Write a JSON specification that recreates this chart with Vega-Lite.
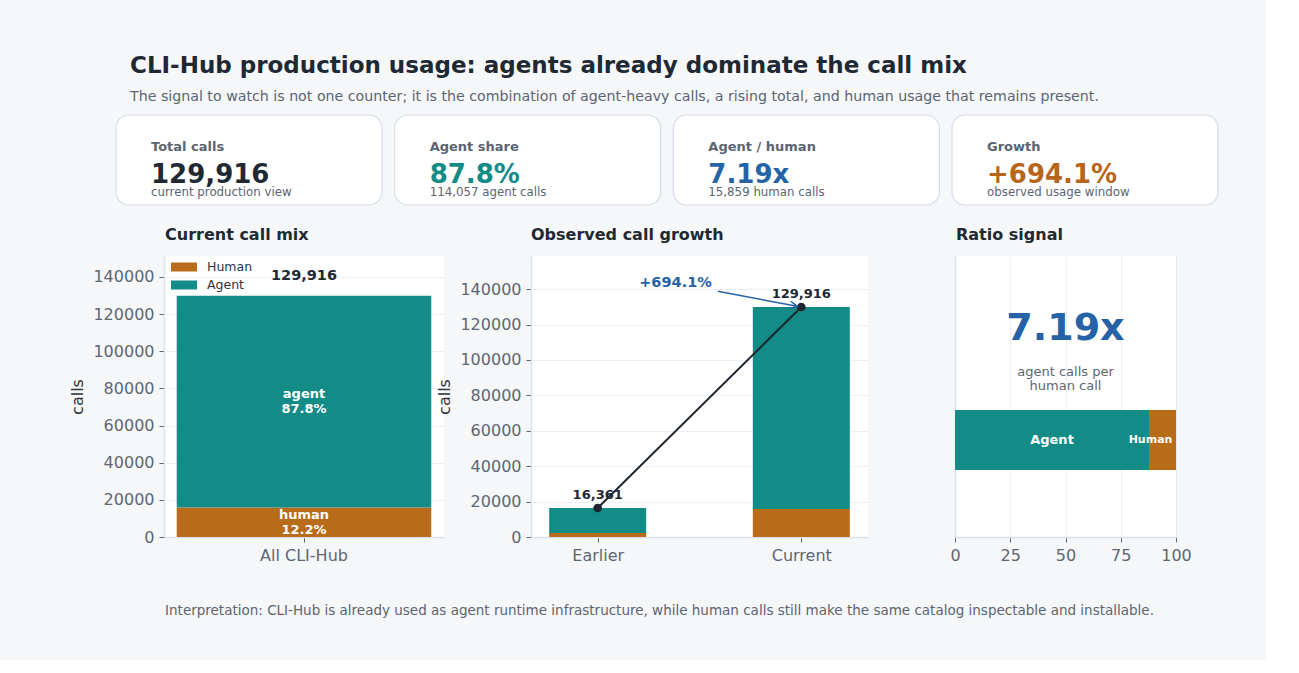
{
  "$schema": "https://vega.github.io/schema/vega-lite/v6.json",
  "background": "#f6f7f9",
  "padding": {"left": 69, "top": 55, "right": 0, "bottom": 22},
  "config": {
    "font": "DejaVu Sans",
    "view": {"stroke": null, "fill": "white"},
    "axis": {
      "labelFont": "DejaVu Sans", "labelFontSize": 16, "labelColor": "#5d6673",
      "titleFont": "DejaVu Sans", "titleFontSize": 16, "titleFontWeight": "normal", "titleColor": "#2f343b",
      "tickColor": "#5d6673", "tickSize": 5, "labelPadding": 5, "labelFlush": false,
      "domainColor": "#dbe1e9", "domainWidth": 1.5,
      "gridColor": "#c9d3df", "gridOpacity": 0.35, "zindex": 1
    },
    "title": {"font": "DejaVu Sans"},
    "text": {"font": "DejaVu Sans"}
  },
  "title": {
    "text": "CLI-Hub production usage: agents already dominate the call mix",
    "subtitle": "The signal to watch is not one counter; it is the combination of agent-heavy calls, a rising total, and human usage that remains present.",
    "anchor": "start", "frame": "group", "dx": -34,
    "fontSize": 23, "fontWeight": "bold", "color": "#1f2933",
    "subtitleFontSize": 14.2, "subtitleColor": "#5b6472", "subtitlePadding": 12,
    "offset": 10, "baseline": "top"
  },
  "spacing": 21,
  "resolve": {"scale": {"color": "independent"}, "legend": {"color": "independent"}},
  "vconcat": [
    {
      "width": 1102, "height": 90,
      "view": {"fill": null, "stroke": null},
      "data": {"values": [
        {"card": "Total calls", "value": "129,916", "note": "current production view"},
        {"card": "Agent share", "value": "87.8%", "note": "114,057 agent calls"},
        {"card": "Agent / human", "value": "7.19x", "note": "15,859 human calls"},
        {"card": "Growth", "value": "+694.1%", "note": "observed usage window"}
      ]},
      "encoding": {
        "x": {"field": "card", "type": "nominal", "sort": null, "axis": null,
              "scale": {"type": "band", "paddingInner": 0.0456, "paddingOuter": 0}}
      },
      "layer": [
        {"mark": {"type": "rect", "fill": "white", "stroke": "#d6dde7", "strokeWidth": 1.2, "cornerRadius": 13, "xOffset": -48}},
        {"mark": {"type": "text", "align": "left", "dx": -13, "dy": -9.5, "baseline": "alphabetic", "fontSize": 13, "fontWeight": "bold", "color": "#5b6472"},
         "encoding": {"x": {"field": "card", "type": "nominal", "sort": null, "bandPosition": 0}, "text": {"field": "card"}}},
        {"mark": {"type": "text", "align": "left", "dx": -13, "dy": 23, "baseline": "alphabetic", "fontSize": 26, "fontWeight": "bold"},
         "encoding": {
           "x": {"field": "card", "type": "nominal", "sort": null, "bandPosition": 0},
           "text": {"field": "value"},
           "color": {"field": "card", "type": "nominal", "legend": null,
                     "scale": {"domain": ["Total calls", "Agent share", "Agent / human", "Growth"], "range": ["#1f2933", "#138b87", "#2563a6", "#b8651b"]}}
         }},
        {"mark": {"type": "text", "align": "left", "dx": -13, "dy": 36, "baseline": "alphabetic", "fontSize": 11.8, "color": "#5b6472"},
         "encoding": {"x": {"field": "card", "type": "nominal", "sort": null, "bandPosition": 0}, "text": {"field": "note"}}}
      ]
    },
    {
      "bounds": "flush",
      "spacing": 87,
      "resolve": {"scale": {"color": "independent"}, "legend": {"color": "independent"}},
      "hconcat": [
        {
          "width": 280, "height": 281,
          "title": {"text": "Current call mix", "anchor": "start", "frame": "group", "fontSize": 16, "fontWeight": "bold", "color": "#1f2933", "baseline": "alphabetic", "offset": 0, "dx": 1},
          "data": {"values": [
            {"scope": "All CLI-Hub", "segment": "Human", "calls": 15859, "share": 12.2},
            {"scope": "All CLI-Hub", "segment": "Agent", "calls": 114057, "share": 87.8}
          ]},
          "layer": [
            {
              "transform": [
                {"stack": "calls", "groupby": ["scope"], "sort": [{"field": "segment", "order": "descending"}], "as": ["c0", "c1"]}
              ],
              "mark": {"type": "bar"},
              "encoding": {
                "x": {"field": "scope", "type": "nominal", "scale": {"paddingInner": 0.1, "paddingOuter": 0.045},
                      "axis": {"title": null, "labelAngle": 0, "grid": false}},
                "y": {"field": "c0", "type": "quantitative", "scale": {"domain": [0, 151300], "nice": false},
                      "axis": {"title": "calls", "values": [0, 20000, 40000, 60000, 80000, 100000, 120000, 140000], "format": "d", "titlePadding": 7}},
                "y2": {"field": "c1"},
                "color": {"field": "segment", "type": "nominal",
                          "scale": {"domain": ["Human", "Agent"], "range": ["#b86b18", "#138b87"]},
                          "legend": {"orient": "none", "legendX": 10, "legendY": 1, "title": null,
                                     "symbolType": "M-1.3,-0.45H1.3V0.45H-1.3Z", "symbolSize": 400, "symbolStrokeWidth": 0, "symbolOpacity": 1,
                                     "labelFontSize": 12.5, "labelColor": "#2f343b", "labelOffset": 13, "rowPadding": 1, "padding": 0}}
              }
            },
            {
              "transform": [
                {"stack": "calls", "groupby": ["scope"], "sort": [{"field": "segment", "order": "descending"}], "as": ["c0", "c1"]},
                {"calculate": "(datum.c0 + datum.c1) / 2", "as": "mid"},
                {"calculate": "lower(datum.segment) + '\\n' + format(datum.share, '.1f') + '%'", "as": "label"}
              ],
              "mark": {"type": "text", "color": "white", "fontWeight": "bold", "fontSize": 13, "lineBreak": "\n", "lineHeight": 15, "baseline": "middle", "dy": -7.5},
              "encoding": {
                "x": {"field": "scope", "type": "nominal"},
                "y": {"field": "mid", "type": "quantitative", "scale": {"domain": [0, 151300], "nice": false}},
                "text": {"field": "label"}
              }
            },
            {
              "data": {"values": [{"scope": "All CLI-Hub", "total": 129916}]},
              "mark": {"type": "text", "fontWeight": "bold", "fontSize": 14.5, "color": "#1f2933", "dy": -16, "baseline": "alphabetic"},
              "encoding": {
                "x": {"field": "scope", "type": "nominal"},
                "y": {"field": "total", "type": "quantitative", "scale": {"domain": [0, 151300], "nice": false}},
                "text": {"field": "total", "type": "quantitative", "format": ","}
              }
            }
          ]
        },
        {
          "width": 337, "height": 281,
          "title": {"text": "Observed call growth", "anchor": "start", "frame": "group", "fontSize": 16, "fontWeight": "bold", "color": "#1f2933", "baseline": "alphabetic", "offset": 0, "dx": 0},
          "data": {"values": [
            {"period": "Earlier", "idx": 0, "segment": "Human", "calls": 2200},
            {"period": "Earlier", "idx": 0, "segment": "Agent", "calls": 14161},
            {"period": "Current", "idx": 1, "segment": "Human", "calls": 15859},
            {"period": "Current", "idx": 1, "segment": "Agent", "calls": 114057}
          ]},
          "layer": [
            {
              "transform": [
                {"stack": "calls", "groupby": ["period"], "sort": [{"field": "segment", "order": "descending"}], "as": ["c0", "c1"]}
              ],
              "mark": {"type": "bar", "width": 97},
              "encoding": {
                "x": {"field": "idx", "type": "quantitative", "scale": {"domain": [-0.303, 1.303], "nice": false, "zero": false},
                      "axis": {"title": null, "values": [0, 1], "labelExpr": "datum.value == 0 ? 'Earlier' : 'Current'", "grid": false}},
                "y": {"field": "c0", "type": "quantitative", "scale": {"domain": [0, 158700], "nice": false},
                      "axis": {"title": "calls", "values": [0, 20000, 40000, 60000, 80000, 100000, 120000, 140000], "format": "d", "titlePadding": 7}},
                "y2": {"field": "c1"},
                "color": {"field": "segment", "type": "nominal",
                          "scale": {"domain": ["Human", "Agent"], "range": ["#b86b18", "#138b87"]}, "legend": null}
              }
            },
            {
              "data": {"values": [
                {"period": "Earlier", "idx": 0, "total": 16361},
                {"period": "Current", "idx": 1, "total": 129916}
              ]},
              "layer": [
                {
                  "mark": {"type": "line", "color": "#1f2530", "strokeWidth": 2,
                           "point": {"filled": true, "size": 75, "color": "#1f2530"}},
                  "encoding": {
                    "x": {"field": "idx", "type": "quantitative", "scale": {"domain": [-0.303, 1.303], "nice": false, "zero": false}},
                    "y": {"field": "total", "type": "quantitative", "scale": {"domain": [0, 158700], "nice": false}}
                  }
                },
                {
                  "mark": {"type": "text", "fontWeight": "bold", "fontSize": 13, "color": "#1f2933", "dy": -13, "baseline": "middle"},
                  "encoding": {
                    "x": {"field": "idx", "type": "quantitative", "scale": {"domain": [-0.303, 1.303], "nice": false, "zero": false}},
                    "y": {"field": "total", "type": "quantitative", "scale": {"domain": [0, 158700], "nice": false}},
                    "text": {"field": "total", "type": "quantitative", "format": ","}
                  }
                }
              ]
            },
            {
              "data": {"values": [{"label": "+694.1%"}]},
              "layer": [
                {
                  "mark": {"type": "rule", "color": "#2563a6", "strokeWidth": 1.5},
                  "encoding": {
                    "x": {"datum": 0.59, "type": "quantitative", "scale": {"domain": [-0.303, 1.303], "nice": false, "zero": false}},
                    "y": {"datum": 138770, "type": "quantitative", "scale": {"domain": [0, 158700], "nice": false}},
                    "x2": {"datum": 0.9795},
                    "y2": {"datum": 130290}
                  }
                },
                {
                  "mark": {"type": "point", "shape": "M-1,-0.55L0,0L-1,0.55", "filled": false, "stroke": "#2563a6", "strokeWidth": 1.5, "size": 196, "angle": 10.4, "opacity": 1},
                  "encoding": {
                    "x": {"datum": 0.9795, "type": "quantitative", "scale": {"domain": [-0.303, 1.303], "nice": false, "zero": false}},
                    "y": {"datum": 130290, "type": "quantitative", "scale": {"domain": [0, 158700], "nice": false}}
                  }
                },
                {
                  "mark": {"type": "text", "fontWeight": "bold", "fontSize": 14.5, "color": "#2563a6", "baseline": "middle"},
                  "encoding": {
                    "x": {"datum": 0.382, "type": "quantitative", "scale": {"domain": [-0.303, 1.303], "nice": false, "zero": false}},
                    "y": {"datum": 143280, "type": "quantitative", "scale": {"domain": [0, 158700], "nice": false}},
                    "text": {"field": "label"}
                  }
                }
              ]
            }
          ]
        },
        {
          "width": 221, "height": 281,
          "title": {"text": "Ratio signal", "anchor": "start", "frame": "group", "fontSize": 16, "fontWeight": "bold", "color": "#1f2933", "baseline": "alphabetic", "offset": 0, "dx": 1},
          "data": {"values": [
            {"segment": "Agent", "share": 87.8},
            {"segment": "Human", "share": 12.2}
          ]},
          "layer": [
            {
              "transform": [
                {"stack": "share", "groupby": [], "sort": [{"field": "segment", "order": "ascending"}], "as": ["s0", "s1"]}
              ],
              "mark": {"type": "rect"},
              "encoding": {
                "x": {"field": "s0", "type": "quantitative", "scale": {"domain": [0, 100], "nice": false},
                      "axis": {"title": null, "values": [0, 25, 50, 75, 100], "format": "d", "grid": true, "labelFlush": false}},
                "x2": {"field": "s1"},
                "y": {"datum": -0.3, "type": "quantitative", "scale": {"domain": [-0.97, 1.84], "nice": false, "zero": false},
                      "axis": {"title": null, "labels": false, "ticks": false, "grid": false, "domain": true}},
                "y2": {"datum": 0.3},
                "color": {"field": "segment", "type": "nominal",
                          "scale": {"domain": ["Human", "Agent"], "range": ["#b86b18", "#138b87"]}, "legend": null}
              }
            },
            {
              "transform": [
                {"stack": "share", "groupby": [], "sort": [{"field": "segment", "order": "ascending"}], "as": ["s0", "s1"]},
                {"calculate": "(datum.s0 + datum.s1) / 2", "as": "mid"},
                {"filter": "datum.segment == 'Agent'"}
              ],
              "mark": {"type": "text", "color": "white", "fontWeight": "bold", "fontSize": 13, "baseline": "middle"},
              "encoding": {
                "x": {"field": "mid", "type": "quantitative", "scale": {"domain": [0, 100], "nice": false}},
                "y": {"datum": 0, "type": "quantitative", "scale": {"domain": [-0.97, 1.84], "nice": false, "zero": false}},
                "text": {"field": "segment"}
              }
            },
            {
              "transform": [
                {"stack": "share", "groupby": [], "sort": [{"field": "segment", "order": "ascending"}], "as": ["s0", "s1"]},
                {"calculate": "(datum.s0 + datum.s1) / 2", "as": "mid"},
                {"filter": "datum.segment == 'Human'"}
              ],
              "mark": {"type": "text", "color": "white", "fontWeight": "bold", "fontSize": 11, "baseline": "middle", "dx": -12},
              "encoding": {
                "x": {"field": "mid", "type": "quantitative", "scale": {"domain": [0, 100], "nice": false}},
                "y": {"datum": 0, "type": "quantitative", "scale": {"domain": [-0.97, 1.84], "nice": false, "zero": false}},
                "text": {"field": "segment"}
              }
            },
            {
              "data": {"values": [{"ratio": "7.19x", "caption": "agent calls per\nhuman call"}]},
              "layer": [
                {
                  "mark": {"type": "text", "color": "#2563a6", "fontWeight": "bold", "fontSize": 38, "baseline": "alphabetic"},
                  "encoding": {
                    "x": {"datum": 50, "type": "quantitative", "scale": {"domain": [0, 100], "nice": false}},
                    "y": {"datum": 1.0, "type": "quantitative", "scale": {"domain": [-0.97, 1.84], "nice": false, "zero": false}},
                    "text": {"field": "ratio"}
                  }
                },
                {
                  "mark": {"type": "text", "color": "#5d6673", "fontSize": 13, "baseline": "middle", "lineBreak": "\n", "lineHeight": 14, "dy": -7},
                  "encoding": {
                    "x": {"datum": 50, "type": "quantitative", "scale": {"domain": [0, 100], "nice": false}},
                    "y": {"datum": 0.61, "type": "quantitative", "scale": {"domain": [-0.97, 1.84], "nice": false, "zero": false}},
                    "text": {"field": "caption"}
                  }
                }
              ]
            }
          ]
        }
      ]
    },
    {
      "width": 991, "height": 54,
      "view": {"fill": null, "stroke": null},
      "data": {"values": [{"note": "Interpretation: CLI-Hub is already used as agent runtime infrastructure, while human calls still make the same catalog inspectable and installable."}]},
      "mark": {"type": "text", "fontSize": 13.5, "color": "#5b6472", "baseline": "middle"},
      "encoding": {"text": {"field": "note"}}
    }
  ]
}
